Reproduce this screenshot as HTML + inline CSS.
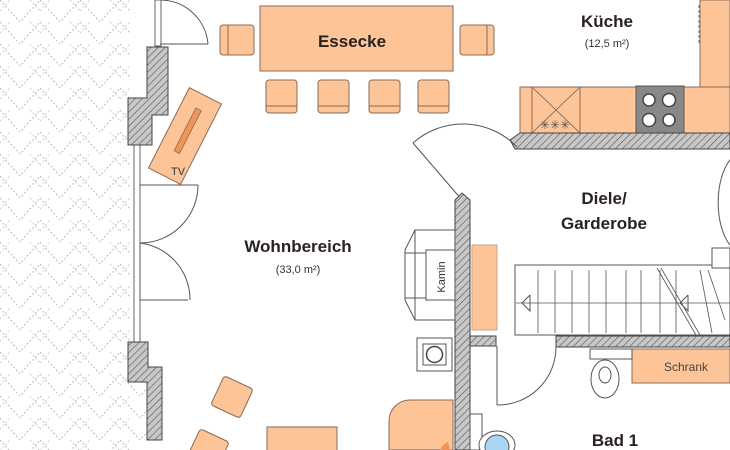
<!DOCTYPE html>
<html><head><meta charset="utf-8"><style>
html,body{margin:0;padding:0;background:#fff;}
svg{display:block;font-family:"Liberation Sans",sans-serif;}
</style></head><body>
<svg width="730" height="450" viewBox="0 0 730 450" xmlns="http://www.w3.org/2000/svg">
<defs>
<pattern id="hb" width="40" height="22" patternUnits="userSpaceOnUse">
<polyline points="0,0 20,22 40,0" fill="none" stroke="#a8a8a8" stroke-width="0.8" stroke-dasharray="2,2"/>
<line x1="0" y1="11" x2="10" y2="0" stroke="#b8b8b8" stroke-width="0.7" stroke-dasharray="2,2"/>
<line x1="30" y1="0" x2="40" y2="11" stroke="#b8b8b8" stroke-width="0.7" stroke-dasharray="2,2"/>
</pattern>
<pattern id="hatch" width="5" height="5" patternUnits="userSpaceOnUse" patternTransform="rotate(45)">
<rect width="5" height="5" fill="#c8c8c8"/>
<line x1="0" y1="0" x2="0" y2="5" stroke="#555" stroke-width="1.2"/>
</pattern>
</defs>
<polygon points="0,0 130,0 130,340 147,340 147,450 0,450" fill="url(#hb)"/>
<rect x="155" y="0" width="6" height="46" fill="#fff" stroke="#666" stroke-width="1"/>
<rect x="134" y="144" width="6" height="200" fill="#fff" stroke="#666" stroke-width="1"/>
<line x1="160" y1="44" x2="208" y2="44" stroke="#555" stroke-width="1"/>
<path d="M208,44 A48,48 0 0 0 160,0" fill="none" stroke="#555" stroke-width="1"/>
<line x1="140" y1="185" x2="198" y2="185" stroke="#555"/>
<path d="M198,185 A58,58 0 0 1 140,243" fill="none" stroke="#555"/>
<line x1="140" y1="243" x2="140" y2="300" stroke="#555"/>
<line x1="140" y1="300" x2="188" y2="300" stroke="#555"/>
<path d="M140,243 A57,57 0 0 1 190,300" fill="none" stroke="#555"/>
<polygon points="147,47 168,47 168,115 152,115 152,145 128,145 128,98 147,98" fill="url(#hatch)" stroke="#444" stroke-width="1"/>
<polygon points="128,342 148,342 148,367 162,367 162,440 147,440 147,382 128,382" fill="url(#hatch)" stroke="#444" stroke-width="1"/>
<g fill="#fdc597" stroke="#8a6a55" stroke-width="1">
<rect x="260" y="6" width="193" height="65"/>
<rect x="220" y="25" width="34" height="30" rx="3"/>
<rect x="460" y="25" width="34" height="30" rx="3"/>
<rect x="266" y="80" width="31" height="33" rx="3"/>
<rect x="318" y="80" width="31" height="33" rx="3"/>
<rect x="369" y="80" width="31" height="33" rx="3"/>
<rect x="418" y="80" width="31" height="33" rx="3"/>
</g>
<g stroke="#8a6a55" stroke-width="1">
<line x1="228" y1="25" x2="228" y2="55"/><line x1="487" y1="25" x2="487" y2="55"/>
<line x1="266" y1="106" x2="297" y2="106"/><line x1="318" y1="106" x2="349" y2="106"/>
<line x1="369" y1="106" x2="400" y2="106"/><line x1="418" y1="106" x2="449" y2="106"/>
</g>
<text x="352" y="47" font-size="17" font-weight="bold" fill="#2a2220" text-anchor="middle">Essecke</text>
<g transform="translate(185,136) rotate(27)">
<rect x="-18" y="-45" width="36" height="90" fill="#fdc597" stroke="#8a6a55"/>
<rect x="-3" y="-30" width="6" height="48" fill="#f0945a" stroke="#8a6a55" stroke-width="0.8"/>
</g>
<text x="171" y="175" font-size="11" fill="#333">TV</text>
<polygon points="700,0 730,0 730,87 700,87" fill="#fdc597" stroke="#8a6a55"/>
<rect x="520" y="87" width="210" height="46" fill="#fdc597" stroke="#8a6a55"/>
<rect x="532" y="87" width="48" height="46" fill="none" stroke="#8a6a55"/>
<line x1="532" y1="87" x2="580" y2="133" stroke="#666" stroke-width="0.8"/>
<line x1="580" y1="87" x2="532" y2="133" stroke="#666" stroke-width="0.8"/>
<text x="555" y="129" font-size="12" fill="#555" text-anchor="middle">✳✳✳</text>
<rect x="636" y="86" width="48" height="47" fill="#888" stroke="#555"/>
<g fill="#fff" stroke="#444" stroke-width="1.5">
<circle cx="649" cy="100" r="6"/><circle cx="669" cy="100" r="6.5"/>
<circle cx="649" cy="120" r="6.5"/><circle cx="669" cy="120" r="6"/>
</g>
<line x1="699" y1="5" x2="699" y2="45" stroke="#777" stroke-dasharray="3,2"/>
<polygon points="520,133 730,133 730,149 515,149 510,140" fill="url(#hatch)" stroke="#444"/>
<text x="607" y="27" font-size="17" font-weight="bold" fill="#2a2220" text-anchor="middle">Küche</text>
<text x="607" y="47" font-size="11" fill="#333" text-anchor="middle">(12,5 m²)</text>
<line x1="462" y1="200" x2="413" y2="143" stroke="#555"/>
<path d="M413,143 A75,75 0 0 1 517,147" fill="none" stroke="#555"/>
<path d="M730,160 A25,50 0 0 0 730,245" fill="none" stroke="#555"/>
<polygon points="455,200 462,193 470,200 470,450 455,450" fill="url(#hatch)" stroke="#444"/>
<text x="604" y="204" font-size="17" font-weight="bold" fill="#2a2220" text-anchor="middle">Diele/</text>
<text x="604" y="229" font-size="17" font-weight="bold" fill="#2a2220" text-anchor="middle">Garderobe</text>
<text x="298" y="252" font-size="17" font-weight="bold" fill="#2a2220" text-anchor="middle">Wohnbereich</text>
<text x="298" y="273" font-size="11" fill="#333" text-anchor="middle">(33,0 m²)</text>
<g fill="#fff" stroke="#555" stroke-width="1">
<polygon points="415,230 455,230 455,320 415,320 405,300 405,250"/>
<line x1="415" y1="230" x2="415" y2="320"/>
<line x1="405" y1="253" x2="455" y2="253"/><line x1="405" y1="298" x2="455" y2="298"/>
<rect x="426" y="250" width="29" height="50"/>
</g>
<text transform="translate(445,277) rotate(-90)" font-size="11" fill="#333" text-anchor="middle">Kamin</text>
<rect x="417" y="338" width="35" height="33" fill="#fff" stroke="#555"/>
<rect x="423" y="344" width="23" height="21" fill="#fff" stroke="#555"/>
<circle cx="434.5" cy="354.5" r="8" fill="#fff" stroke="#444" stroke-width="1.5"/>
<rect x="472" y="245" width="25" height="85" fill="#fdc597" stroke="#c9a588"/>
<rect x="515" y="265" width="215" height="70" fill="#fff" stroke="#555"/>
<g stroke="#555" stroke-width="0.8">
<line x1="538" y1="270" x2="538" y2="333"/><line x1="555" y1="270" x2="555" y2="333"/>
<line x1="572" y1="270" x2="572" y2="333"/><line x1="589" y1="270" x2="589" y2="333"/>
<line x1="606" y1="270" x2="606" y2="333"/><line x1="626" y1="270" x2="626" y2="333"/>
<line x1="641" y1="270" x2="641" y2="333"/><line x1="660" y1="270" x2="660" y2="333"/>
<line x1="676" y1="270" x2="676" y2="333"/>
<line x1="516" y1="303" x2="730" y2="303"/>
<line x1="657" y1="268" x2="696" y2="335"/><line x1="661" y1="268" x2="700" y2="335"/>
<line x1="700" y1="270" x2="712" y2="333"/><line x1="708" y1="270" x2="725" y2="320"/>
</g>
<polyline points="530,295 522,303 530,311 530,295" fill="none" stroke="#555"/>
<polyline points="688,295 680,303 688,311 688,295" fill="none" stroke="#555"/>
<rect x="712" y="248" width="18" height="20" fill="#fff" stroke="#555"/>
<rect x="470" y="336" width="26" height="10" fill="url(#hatch)" stroke="#444"/>
<rect x="556" y="336" width="174" height="11" fill="url(#hatch)" stroke="#444"/>
<line x1="497" y1="346" x2="497" y2="405" stroke="#555"/>
<path d="M497,405 A58,58 0 0 0 556,347" fill="none" stroke="#555"/>
<rect x="632" y="349" width="98" height="34" fill="#fdc597" stroke="#8a6a55"/>
<text x="686" y="371" font-size="12" fill="#444" text-anchor="middle">Schrank</text>
<rect x="590" y="349" width="42" height="10" fill="#fff" stroke="#555"/>
<ellipse cx="605" cy="379" rx="14" ry="19" fill="#fff" stroke="#555"/>
<ellipse cx="605" cy="375" rx="6" ry="8" fill="#fff" stroke="#555"/>
<text x="615" y="446" font-size="17" font-weight="bold" fill="#2a2220" text-anchor="middle">Bad 1</text>
<rect x="470" y="414" width="12" height="36" fill="#fff" stroke="#555"/>
<ellipse cx="497" cy="445" rx="18" ry="14" fill="#fff" stroke="#555"/>
<ellipse cx="497" cy="447" rx="12" ry="12" fill="#aad6f5" stroke="#555"/>
<path d="M410,400 H453 V450 H389 V421 A21,21 0 0 1 410,400 Z" fill="#fdc597" stroke="#8a6a55"/>
<path d="M448,442 Q440,446 441,450 H450 Z" fill="#f0945a"/>
<rect x="267" y="427" width="70" height="30" fill="#fdc597" stroke="#8a6a55"/>
<g transform="translate(232,397) rotate(25)"><rect x="-16" y="-16" width="32" height="32" rx="3" fill="#fdc597" stroke="#8a6a55"/></g>
<g transform="translate(208,450) rotate(25)"><rect x="-16" y="-16" width="32" height="32" rx="3" fill="#fdc597" stroke="#8a6a55"/></g>
</svg>
</body></html>
